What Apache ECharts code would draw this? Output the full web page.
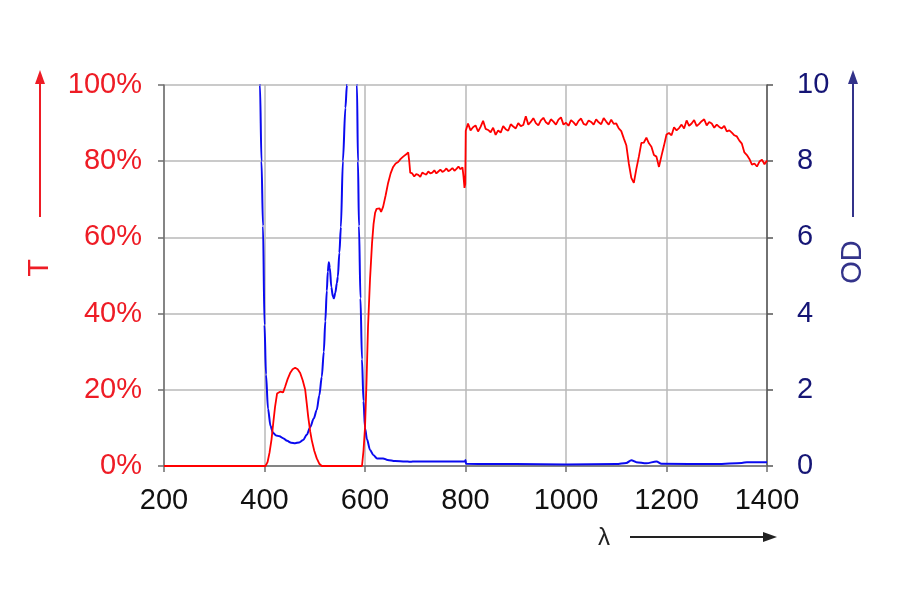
<!DOCTYPE html>
<html>
<head>
<meta charset="utf-8">
<script src="https://cdn.jsdelivr.net/npm/echarts@6/dist/echarts.min.js"></script>
<style>html,body{margin:0;padding:0;background:#fff;}#c{width:900px;height:600px;}</style>
</head>
<body>
<div id="c"></div>
<script>
// Wavelength ticks
const xTicks = [200, 400, 600, 800, 1000, 1200, 1400];
const tTicks = [0, 20, 40, 60, 80, 100];
const odTicks = [0, 2, 4, 6, 8, 10];

// Transmission T (%) vs wavelength (nm)
const tWl = [200, 402, 406, 410, 414, 418, 421, 425, 431, 437, 441, 446, 451, 456, 461, 466, 471, 476, 481, 484, 487, 491, 494, 499, 504, 509, 514,
  594, 597, 600, 603, 606, 610, 614, 617, 620, 623, 626, 629, 632, 636, 641, 646, 651, 656, 661, 666, 671, 676, 679, 682, 686, 688,
  690, 694, 698, 702, 706, 710, 714, 718, 722, 726, 730, 734, 738, 742, 746, 750, 754, 758, 762, 766, 770, 774, 778, 782, 786, 790, 794, 796, 798, 799.5,
  800.5, 805, 810, 815, 820, 825, 830, 835, 840, 845, 850, 855, 860, 865, 870, 875, 880, 885, 890, 895, 900,
  905, 910, 915, 920, 925, 930, 935, 940, 945, 950, 955, 960, 965, 970, 975, 980, 985, 990, 995, 1000,
  1005, 1010, 1015, 1020, 1025, 1030, 1035, 1040, 1045, 1050, 1055, 1060, 1065, 1070, 1075, 1080, 1085, 1090, 1095, 1100,
  1105, 1110, 1115, 1120, 1125, 1130, 1135, 1140, 1145, 1150, 1155, 1160, 1165, 1170, 1175, 1180, 1185, 1190, 1195, 1200,
  1205, 1210, 1215, 1220, 1225, 1230, 1235, 1240, 1245, 1250, 1255, 1260, 1265, 1270, 1275, 1280, 1285, 1290, 1295, 1300,
  1305, 1310, 1315, 1320, 1325, 1330, 1335, 1340, 1345, 1350, 1355, 1360, 1365, 1370, 1375, 1380, 1385, 1390, 1395, 1400];
const tVal = [0, 0, 1, 3.5, 7, 12, 15.5, 19, 19.5, 19.3, 20.8, 22.8, 24.4, 25.4, 25.8, 25.4, 24.4, 22.5, 20, 16.5, 12.9, 9, 6.8, 4, 2, 0.6, 0,
  0, 4, 10, 22, 36.5, 49, 58.5, 63.5, 66.4, 67.5, 68, 67.6, 66.7, 68, 71, 74.3, 76.8, 78.5, 79.4, 79.8, 80.6, 81.2, 80.8, 81.8, 82.3, 80,
  77, 76.8, 76.0, 76.6, 76.4, 75.9, 77.0, 76.7, 76.5, 77.3, 76.8, 77.0, 77.6, 76.8, 77.3, 77.8, 77.2, 77.5, 78.1, 77.4, 77.7, 78.2, 77.5, 78.0, 78.6, 77.9, 78.4, 76, 73, 74,
  88, 89.9, 88.1, 88.9, 89.4, 87.8, 89.0, 90.6, 88.5, 88.2, 87.6, 88.8, 86.9, 88.1, 87.5, 89.2, 88.4, 88.0, 89.7, 89.1, 88.6,
  90.0, 89.2, 89.5, 91.8, 89.6, 90.3, 91.3, 90.0, 89.4, 90.7, 91.4, 90.2, 89.7, 91.0, 90.4, 89.6, 90.9, 91.5, 89.6, 90.1,
  89.3, 90.8, 90.2, 89.4, 90.6, 91.2, 89.8, 89.5, 90.7, 90.3, 89.6, 91.0, 90.2, 89.7, 91.3, 90.4, 89.6, 90.9, 89.8, 89.9,
  88.6, 87.9, 86.0, 84.2, 79.4, 75.6, 74.3, 78.0, 81.2, 84.8, 84.9, 86.2, 84.7, 83.8, 81.6, 81.2, 78.5, 81.4, 84.1, 87.0,
  87.4, 86.8, 88.9, 88.1, 88.7, 89.6, 88.6, 90.7, 89.3, 89.9, 90.8, 89.2, 89.8, 90.5, 91.0, 89.4, 90.3, 89.9, 88.8, 89.6,
  89.0, 88.6, 89.3, 87.8, 88.1, 87.5, 86.8, 86.5, 85.4, 84.6, 82.3, 81.6, 80.6, 79.1, 79.4, 78.6, 79.9, 80.4, 79.2, 80.2];

// Optical density OD vs wavelength (nm); values above 10 run off the top of the plot
const odWl = [200, 385, 391, 394, 397, 400, 403, 407, 412, 417, 423, 430, 437, 445, 453, 461, 469, 477, 484, 491, 498, 504, 509, 514, 518, 521, 524, 526, 528, 530, 533, 536, 538, 541, 544, 546, 549, 552, 556, 561, 564, 567,
  582, 584, 586, 588, 591, 594, 597, 600, 604, 610, 617, 624, 630, 636, 645, 660, 680, 690, 700, 750, 799, 800, 801, 850, 900, 1000, 1100, 1120, 1130, 1140, 1160, 1180, 1190, 1300, 1350, 1360, 1400];
const odVal = [15, 15, 10, 8, 6.3, 3.7, 2.4, 1.5, 1.05, 0.87, 0.8, 0.78, 0.73, 0.66, 0.61, 0.6, 0.62, 0.68, 0.82, 1.02, 1.25, 1.47, 1.85, 2.34, 3.0, 3.8, 4.6, 5.1, 5.35, 5.2, 4.7, 4.45, 4.4, 4.55, 4.8, 4.97, 5.6, 6.27, 8.0, 9.4, 10, 14,
  14, 10, 8, 6.3, 4.4, 2.8, 1.7, 1.0, 0.7, 0.42, 0.28, 0.2, 0.2, 0.2, 0.16, 0.13, 0.12, 0.11, 0.12, 0.12, 0.12, 0.16, 0.06, 0.05, 0.05, 0.04, 0.05, 0.08, 0.15, 0.1, 0.07, 0.12, 0.06, 0.05, 0.08, 0.1, 0.1];

const RED = '#ee1c25';
const NAVY = '#151575';
const ARROW_NAVY = '#33338a';
const FONT = '"Liberation Sans", Arial, sans-serif';

const chart = echarts.init(document.getElementById('c'));
chart.setOption({
  animation: false,
  backgroundColor: '#ffffff',
  grid: { left: 164, right: 133, top: 85, bottom: 134, containLabel: false },
  xAxis: {
    type: 'value', min: xTicks[0], max: xTicks[xTicks.length - 1], interval: 200,
    axisLine: { show: true, onZero: false, lineStyle: { color: '#6e6e6e', width: 1.5 } },
    axisTick: { show: true, length: 6, lineStyle: { color: '#6e6e6e', width: 1.5 } },
    axisLabel: { color: '#111', fontSize: 29, fontFamily: FONT, margin: 20, formatter: v => String(v) },
    splitLine: { show: true, lineStyle: { color: '#b8b8b8', width: 1.5 } }
  },
  yAxis: [
    {
      type: 'value', min: tTicks[0], max: tTicks[tTicks.length - 1], interval: 20, position: 'left',
      axisLine: { show: true, lineStyle: { color: '#6e6e6e', width: 1.5 } },
      axisTick: { show: true, length: 6, lineStyle: { color: '#6e6e6e', width: 1.5 } },
      axisLabel: { color: RED, fontSize: 29, fontFamily: FONT, margin: 22, formatter: '{value}%' },
      splitLine: { show: true, lineStyle: { color: '#b8b8b8', width: 1.5 } }
    },
    {
      type: 'value', min: odTicks[0], max: odTicks[odTicks.length - 1], interval: 2, position: 'right',
      axisLine: { show: true, lineStyle: { color: '#555', width: 1.5 } },
      axisTick: { show: true, length: 6, lineStyle: { color: '#555', width: 1.5 } },
      axisLabel: { color: NAVY, fontSize: 29, fontFamily: FONT, margin: 30, align: 'left' },
      splitLine: { show: false }
    }
  ],
  series: [
    {
      name: 'OD', type: 'line', yAxisIndex: 1, showSymbol: false, clip: true,
      smooth: 0.3, smoothMonotone: 'x',
      lineStyle: { color: '#0a0af0', width: 2 },
      data: odWl.map((w, i) => [w, odVal[i]])
    },
    {
      name: 'T', type: 'line', yAxisIndex: 0, showSymbol: false, clip: true,
      lineStyle: { color: '#ff0000', width: 1.8 },
      data: tWl.map((w, i) => [w, tVal[i]])
    }
  ],
  graphic: [
    { type: 'line', shape: { x1: 40, y1: 217, x2: 40, y2: 80 }, style: { stroke: RED, lineWidth: 2 } },
    { type: 'polygon', shape: { points: [[40, 70], [35, 84], [45, 84]] }, style: { fill: RED } },
    { type: 'text', x: 40, y: 268, rotation: Math.PI / 2, style: { text: 'T', fill: RED, font: '29px ' + FONT, align: 'center', verticalAlign: 'middle' } },
    { type: 'line', shape: { x1: 853, y1: 217, x2: 853, y2: 80 }, style: { stroke: ARROW_NAVY, lineWidth: 2 } },
    { type: 'polygon', shape: { points: [[853, 70], [848, 84], [858, 84]] }, style: { fill: ARROW_NAVY } },
    { type: 'text', x: 853, y: 262, rotation: Math.PI / 2, style: { text: 'OD', fill: ARROW_NAVY, font: '29px ' + FONT, align: 'center', verticalAlign: 'middle' } },
    { type: 'text', x: 604, y: 538, style: { text: 'λ', fill: '#222', font: '24px ' + FONT, align: 'center', verticalAlign: 'middle' } },
    { type: 'line', shape: { x1: 630, y1: 537, x2: 765, y2: 537 }, style: { stroke: '#222', lineWidth: 2 } },
    { type: 'polygon', shape: { points: [[777, 537], [763, 532], [763, 542]] }, style: { fill: '#222' } }
  ]
});
</script>
</body>
</html>
